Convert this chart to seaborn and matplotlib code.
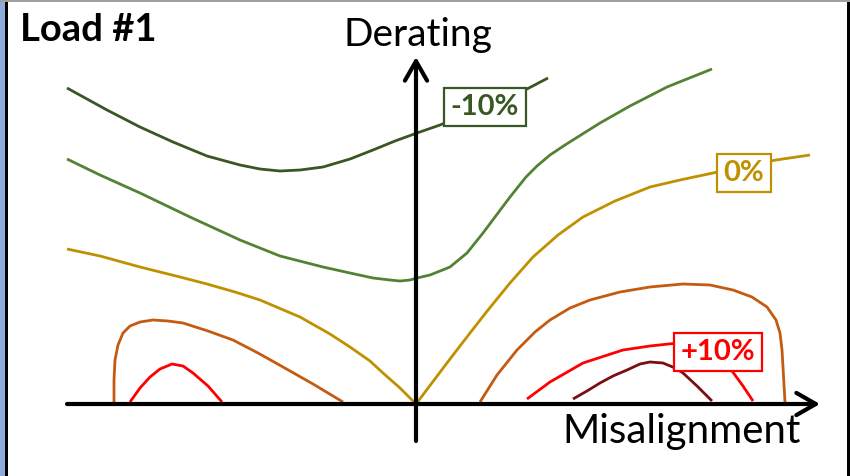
import matplotlib
matplotlib.use("Agg")
import matplotlib.pyplot as plt
from matplotlib.patches import Rectangle
import seaborn as sns

sns.set_theme(style="white")
plt.rcParams["font.family"] = ["Lato", "DejaVu Sans"]

# curve points (misalignment, derating), origin at the axes crossing
minus10_x = [-349, -309, -276, -243, -209, -176, -156, -136, -116, -93, -66, -43, -21, 1, 24, 69, 111, 132]
minus10_y = [316, 294, 277, 262, 248, 239, 235, 233, 234, 237, 245, 254, 263, 271, 279, 297, 315, 326]

minus5_x = [-349, -316, -276, -226, -176, -136, -93, -66, -43, -26, -16, -6, 1, 14, 24, 34, 51, 67, 94, 110, 121, 134,
            149, 184, 214, 251, 296]
minus5_y = [245, 229, 211, 187, 164, 148, 137, 131, 126, 124, 123, 124, 126, 129, 133, 137, 151, 171, 207, 227, 238,
            249, 259, 281, 298, 317, 335]

zero_left_x = [-349, -316, -276, -236, -209, -181, -156, -116, -86, -66, -46, -33, -16, 0]
zero_left_y = [155, 148, 137, 127, 120, 112, 104, 87, 70, 57, 43, 31, 16, 0]
zero_right_x = [0, 34, 54, 72, 94, 117, 142, 167, 199, 234, 264, 297, 329, 360, 394]
zero_right_y = [0, 45, 71, 94, 121, 147, 169, 187, 203, 217, 224, 231, 238, 244, 249]

plus5_left_x = [-302, -302, -301, -298, -293, -286, -276, -263, -248, -233, -208, -183, -158, -133, -103, -73]
plus5_left_y = [0, 24, 44, 59, 71, 78, 82, 84, 83, 81, 73, 64, 51, 37, 20, 2]
plus5_right_x = [64, 81, 101, 119, 134, 154, 174, 204, 234, 267, 294, 317, 336, 351, 360, 364, 366, 367, 368, 369]
plus5_right_y = [2, 29, 54, 72, 84, 96, 104, 112, 117, 120, 119, 114, 107, 97, 84, 71, 54, 37, 19, 2]

plus10_left_x = [-286, -276, -266, -256, -244, -233, -223, -208, -194]
plus10_left_y = [2, 16, 27, 35, 40, 38, 31, 18, 2]
plus10_right_x = [111, 134, 167, 207, 234, 262, 289, 309, 316, 327, 337]
plus10_right_y = [5, 22, 41, 54, 58, 61, 59, 46, 33, 18, 3]

plus15_x = [157, 171, 184, 197, 211, 224, 234, 247, 259, 267, 281, 296]
plus15_y = [5, 13, 21, 28, 34, 40, 42, 41, 36, 31, 18, 3]

c_dkgreen = "#385723"
c_green = "#548235"
c_gold = "#BF9000"
c_orange = "#C55A11"
c_red = "#FF0000"
c_maroon = "#7B0F0F"

fig = plt.figure(figsize=(8.5, 4.76), dpi=100)
ax = fig.add_axes([0, 0, 1, 1])
ax.set_xlim(-416, 434)
ax.set_ylim(-72, 404)
ax.axis("off")

segments = [
    (minus10_x, minus10_y, c_dkgreen),
    (minus5_x, minus5_y, c_green),
    (zero_left_x, zero_left_y, c_gold),
    (zero_right_x, zero_right_y, c_gold),
    (plus5_left_x, plus5_left_y, c_orange),
    (plus5_right_x, plus5_right_y, c_orange),
    (plus10_left_x, plus10_left_y, c_red),
    (plus10_right_x, plus10_right_y, c_red),
    (plus15_x, plus15_y, c_maroon),
]
for xs, ys, col in segments:
    sns.lineplot(x=xs, y=ys, sort=False, estimator=None, color=col, lw=2.0, ax=ax, zorder=2,
                 solid_joinstyle="round", solid_capstyle="butt")

# axes arrows
arrow = dict(arrowstyle="->,head_length=0.7,head_width=0.4", lw=3, color="black",
             mutation_scale=20, shrinkA=0, shrinkB=0)
ax.annotate("", xy=(404, 0), xytext=(-349, 0), arrowprops=arrow, zorder=3)
ax.annotate("", xy=(0, 347), xytext=(0, -37), arrowprops=arrow, zorder=3)

ax.text(2, 358, "Derating", fontsize=28, ha="center", va="baseline", color="black")
ax.text(266, -39, "Misalignment", fontsize=29, ha="center", va="baseline", color="black")
ax.text(-396, 363, "Load #1", fontsize=27.5, fontweight="bold", ha="left", va="baseline", color="black")

for x, y, label, col in [(69, 297, "-10%", c_dkgreen), (328, 231, "0%", c_gold), (302, 52, "+10%", c_red)]:
    ax.text(x, y, label, fontsize=21, fontweight="bold", color=col, ha="center", va="center", zorder=4,
            bbox=dict(boxstyle="square,pad=0.22", fc="white", ec=col, lw=1.6))

# slide frame
fig.add_artist(Rectangle((0, 0), 5 / 850, 1, transform=fig.transFigure, color="#8FAADC", lw=0))
fig.add_artist(Rectangle((5 / 850, 0), 3 / 850, 1, transform=fig.transFigure, color="black", lw=0))
fig.add_artist(Rectangle((847 / 850, 0), 3 / 850, 1, transform=fig.transFigure, color="black", lw=0))
fig.add_artist(Rectangle((0, 474 / 476), 1, 2 / 476, transform=fig.transFigure, color="#A0A0A0", lw=0))

fig.savefig("out.png", dpi=100)
